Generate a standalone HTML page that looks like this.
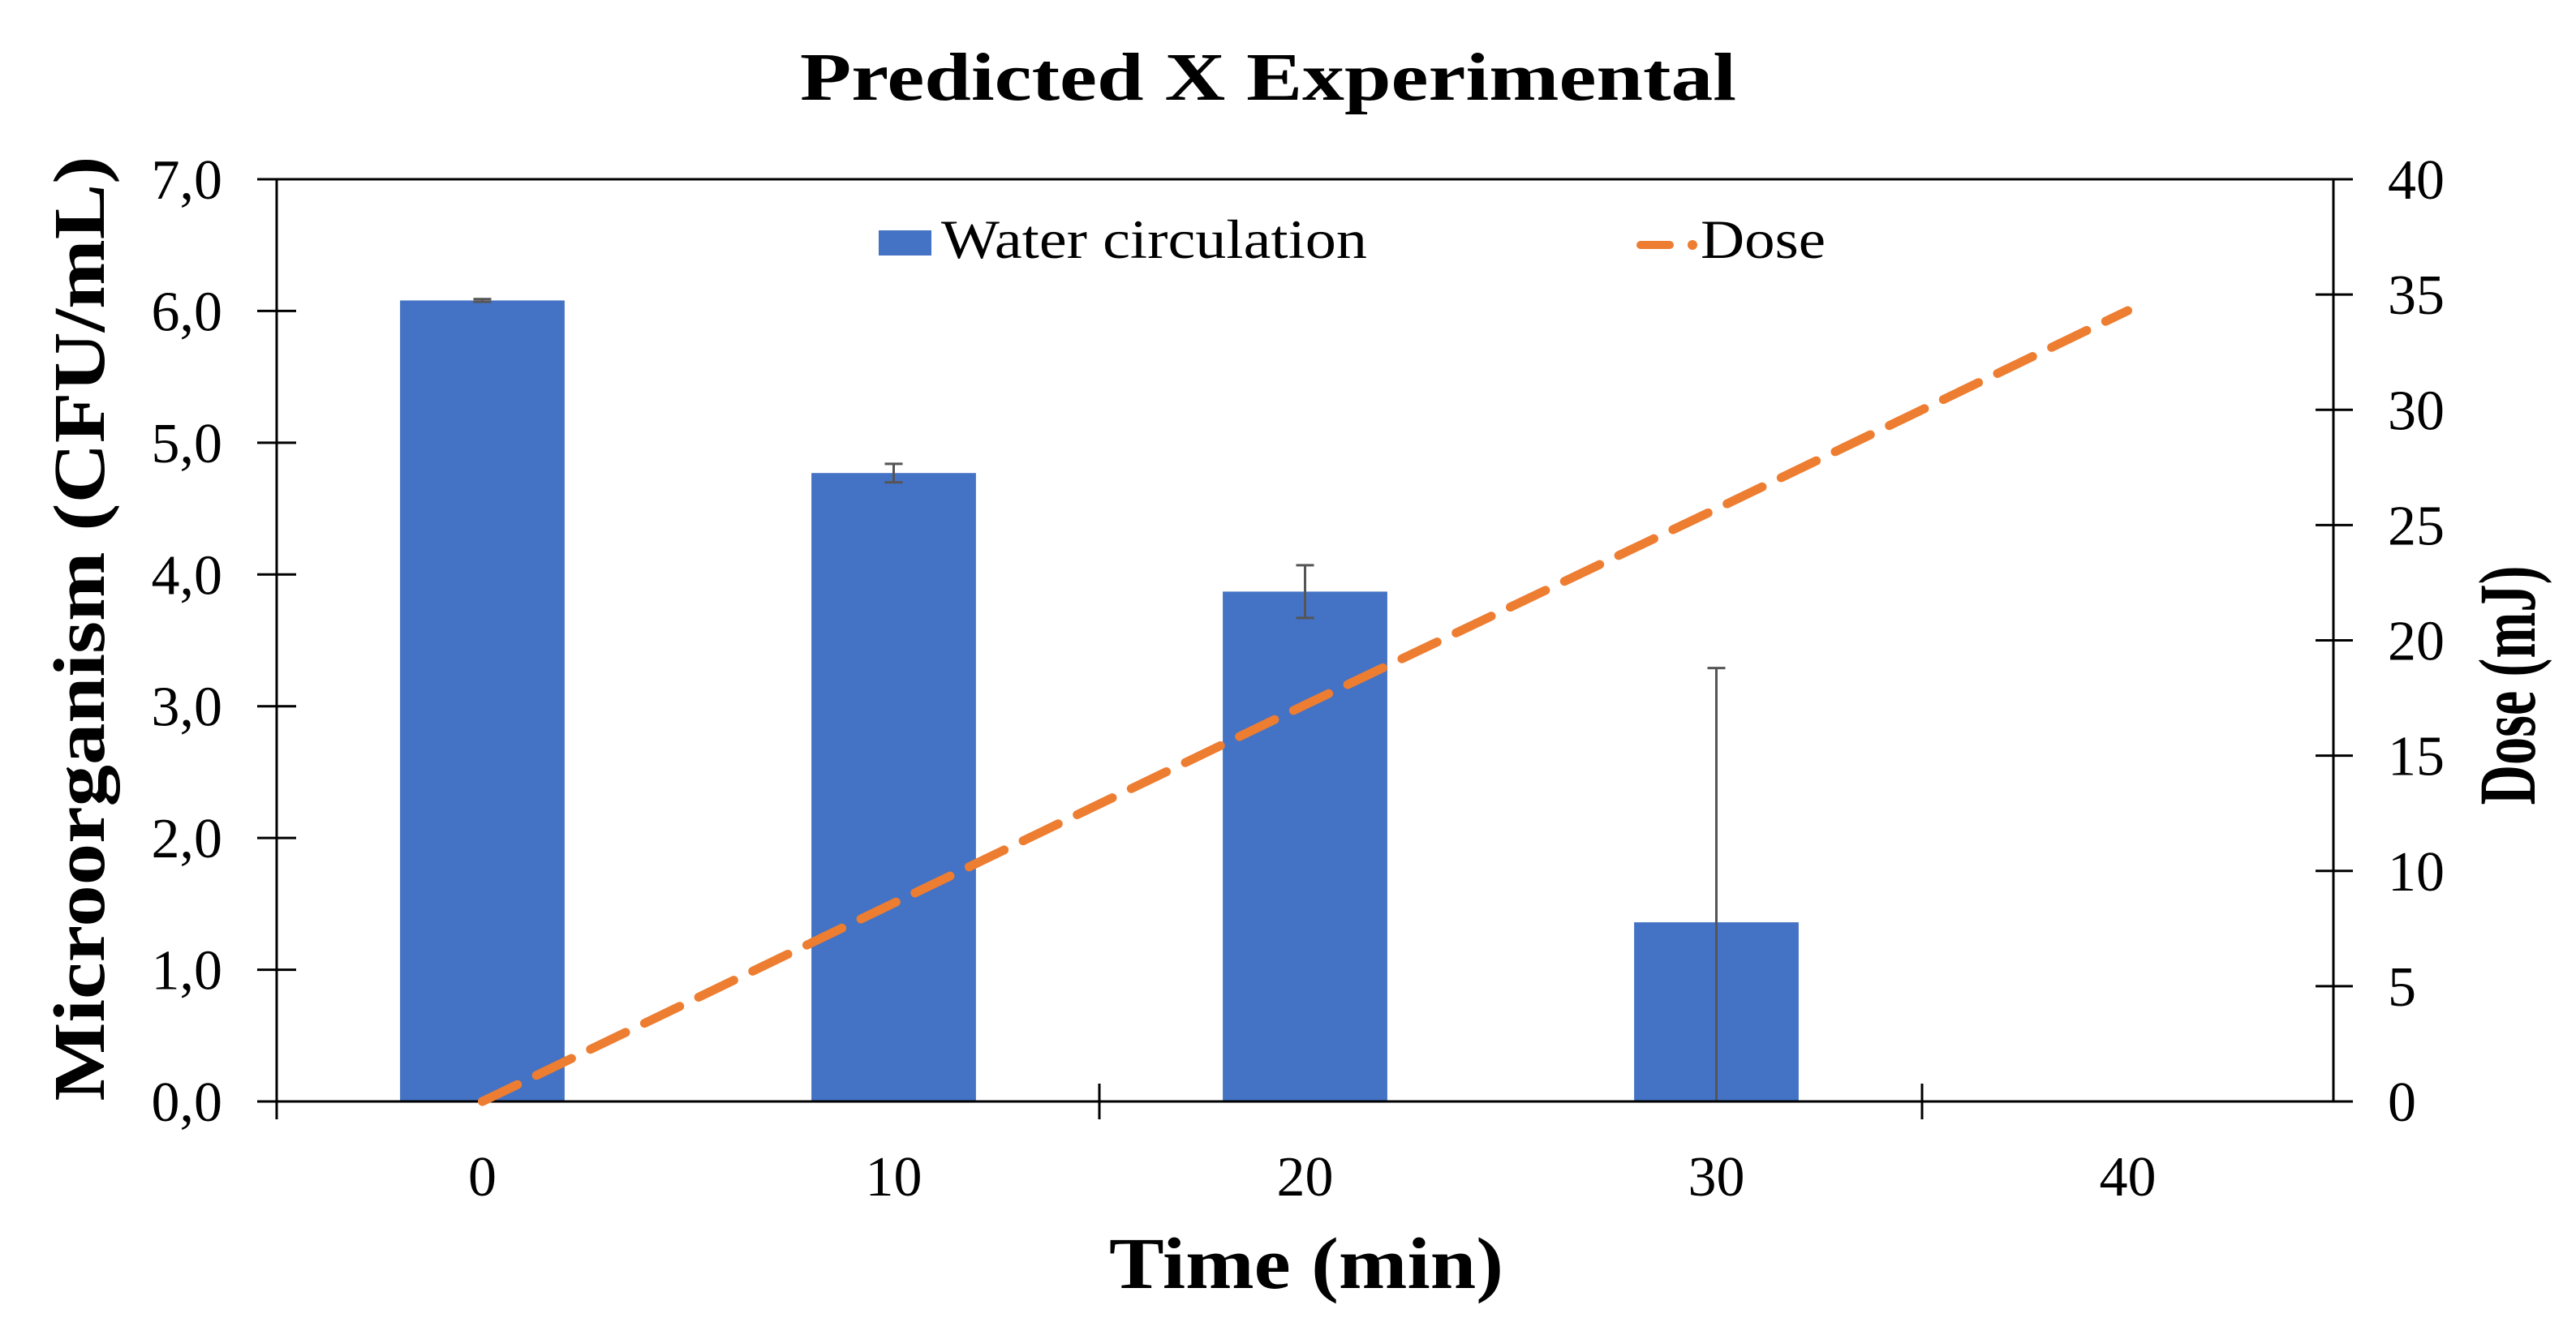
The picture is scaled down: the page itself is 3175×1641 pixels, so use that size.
<!DOCTYPE html>
<html><head><meta charset="utf-8"><style>
html,body{margin:0;padding:0;background:#fff;}
svg{display:block;font-family:"Liberation Serif",serif;}
</style></head><body>
<svg id="chart" width="3175" height="1641" viewBox="0 0 3175 1641" xmlns="http://www.w3.org/2000/svg">
<rect width="3175" height="1641" fill="#fff"/>
<text x="1563" y="123" font-size="84" font-weight="bold" text-anchor="middle" textLength="1154" lengthAdjust="spacingAndGlyphs">Predicted X Experimental</text>
<g id="plot"></g>
<text x="1610" y="1588" font-size="90" font-weight="bold" text-anchor="middle" textLength="486" lengthAdjust="spacingAndGlyphs">Time (min)</text>
<text transform="translate(128,775) rotate(-90)" font-size="90" font-weight="bold" text-anchor="middle" textLength="1165" lengthAdjust="spacingAndGlyphs">Microorganism (CFU/mL)</text>
<text transform="translate(3124,845) rotate(-90)" font-size="100" font-weight="bold" text-anchor="middle" textLength="295" lengthAdjust="spacingAndGlyphs">Dose (mJ)</text>
<rect x="1083" y="284" width="65" height="31" fill="#4472C4"/>
<text x="1160" y="318" font-size="68" textLength="525" lengthAdjust="spacingAndGlyphs">Water circulation</text>
<line x1="2022" y1="302" x2="2058" y2="302" stroke="#ED7D31" stroke-width="10" stroke-linecap="round"/>
<circle cx="2086" cy="302" r="6" fill="#ED7D31"/>
<text x="2096" y="318" font-size="68" textLength="154" lengthAdjust="spacingAndGlyphs">Dose</text>
</svg>
<script>
const categories = [0, 10, 20, 30, 40];
const waterValues = [6.08, 4.77, 3.87, 1.36, null];
const waterErrors = [0.01, 0.07, 0.20, 1.93, null];
const doseValues = [0, 8.6, 17.2, 25.7, 34.3];
const yTicks = ["0,0","1,0","2,0","3,0","4,0","5,0","6,0","7,0"];
const y2Ticks = ["0","5","10","15","20","25","30","35","40"];

const NS = "http://www.w3.org/2000/svg";
const L = 341, R = 2876, T = 221, B = 1358;
const catW = (R - L) / categories.length;
const xC = i => L + catW * (i + 0.5);
const y = v => B - (v / 7) * (B - T);
const y2 = v => B - (v / 40) * (B - T);
const g = document.getElementById('plot');
function mk(tag, attrs) {
  const e = document.createElementNS(NS, tag);
  for (const k in attrs) e.setAttribute(k, attrs[k]);
  g.appendChild(e);
  return e;
}
waterValues.forEach((v, i) => {
  if (v === null) return;
  const bw = catW * 0.4;
  const r = mk('rect', {x: xC(i) - bw / 2, y: y(v), width: bw, height: B - y(v), fill: '#4472C4'});
  
  
});
waterValues.forEach((v, i) => {
  if (v === null) return;
  const e = waterErrors[i];
  const lo = Math.max(0, v - e);
  let d = `M${xC(i)},${y(v + e)}V${y(lo)}M${xC(i) - 11},${y(v + e)}h22`;
  if (v - e > 0) d += `M${xC(i) - 11},${y(lo)}h22`;
  const eg = mk('path', {d: d, stroke: '#555', 'stroke-width': 3, fill: 'none'});
  
  
});
const fr = mk('path', {d: `M${L},${T}H${R}V${B}H${L}Z`, stroke: '#000', 'stroke-width': 3, fill: 'none'});


yTicks.forEach((t, i) => {
  const yy = y(i);
  const tk = mk('line', {x1: L - 24, x2: L + 24, y1: yy, y2: yy, stroke: '#000', 'stroke-width': 3});
  
  
  const tx = mk('text', {x: 274, y: yy + 24, 'font-size': 70, 'text-anchor': 'end'});
  tx.textContent = t;
  
  
});
y2Ticks.forEach((t, i) => {
  const yy = y2(i * 5);
  const tk = mk('line', {x1: R - 22, x2: R + 24, y1: yy, y2: yy, stroke: '#000', 'stroke-width': 3});
  
  
  const tx = mk('text', {x: 2943, y: yy + 24, 'font-size': 70});
  tx.textContent = t;
  
  
});
for (let i = 0; i <= categories.length; i += 2) {
  const xx = L + catW * i;
  const tk = mk('line', {x1: xx, x2: xx, y1: B - 22, y2: B + 22, stroke: '#000', 'stroke-width': 3});
  
  
}
categories.forEach((c, i) => {
  const tx = mk('text', {x: xC(i), y: 1474, 'font-size': 70, 'text-anchor': 'middle'});
  tx.textContent = c;
  
  
});
const pts = doseValues.map((d, i) => `${xC(i)},${y2(d)}`).join(' ');
const ln = mk('polyline', {points: pts, fill: 'none', stroke: '#ED7D31', 'stroke-width': 11, 'stroke-dasharray': '48,26', 'stroke-linecap': 'round'});


</script>
</body></html>
